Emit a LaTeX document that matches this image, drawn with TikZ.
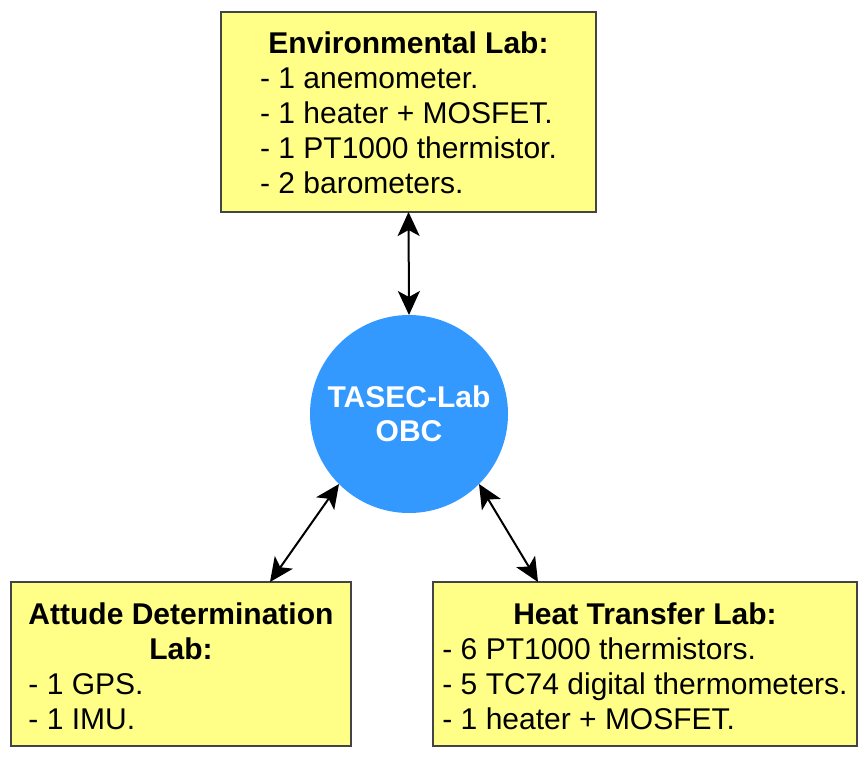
\documentclass[tikz,border=0pt]{standalone}
\usepackage{fontspec}
\setmainfont{Liberation Sans}
\usetikzlibrary{arrows.meta}
\definecolor{boxfill}{HTML}{FFFF88}
\definecolor{boxline}{HTML}{444444}
\definecolor{obcblue}{HTML}{3399FF}
\newcommand{\lowerby}[2]{\raisebox{0pt}[\dimexpr\height+#1*2\relax][\depth]{#2}}
\tikzset{
  labbox/.style={draw=boxline, fill=boxfill, line width=2pt, inner sep=0pt, outer sep=0pt,
    font=\fontsize{30}{35}\selectfont},
  obcnode/.style={circle, fill=obcblue, draw=none, minimum size=198pt, inner sep=0pt, outer sep=0pt,
    text=white, font=\fontsize{30}{34}\selectfont\bfseries, align=center},
  biarrow/.style={line width=2pt,
    arrows={Stealth[length=24pt,width=22pt,inset=6pt]-Stealth[length=24pt,width=22pt,inset=6pt]}}
}
\begin{document}
\begin{tikzpicture}[x=1pt,y=-1pt]
\useasboundingbox (0,0) rectangle (866,758);
\node[labbox, minimum width=375pt, minimum height=200pt] (env) at (408.5,112) {%
  \lowerby{4pt}{\begin{tabular}{@{}l@{}}
  \multicolumn{1}{@{}c@{}}{\textbf{Environmental Lab:}}\\
  - 1 anemometer.\\
  - 1 heater + MOSFET.\\
  - 1 PT1000 thermistor.\\
  - 2 barometers.
  \end{tabular}}};
\node[obcnode] (obc) at (409,414) {\lowerby{4pt}{\begin{tabular}{@{}c@{}}TASEC-Lab\\OBC\end{tabular}}};
\node[labbox, minimum width=340pt, minimum height=164pt] (att) at (181,664) {%
  \lowerby{6pt}{\begin{tabular}{@{}l@{}}
  \multicolumn{1}{@{}c@{}}{\textbf{Attude Determination}}\\
  \multicolumn{1}{@{}c@{}}{\textbf{Lab:}}\\
  - 1 GPS.\\
  - 1 IMU.
  \end{tabular}}};
\node[labbox, minimum width=424pt, minimum height=164pt] (heat) at (645,664) {%
  \lowerby{6pt}{\begin{tabular}{@{}l@{}}
  \multicolumn{1}{@{}c@{}}{\textbf{Heat Transfer Lab:}}\\
  - 6 PT1000 thermistors.\\
  - 5 TC74 digital thermometers.\\
  - 1 heater + MOSFET.
  \end{tabular}}};
\coordinate (attin) at (270,582);
\coordinate (heatin) at (538,582);
\draw[biarrow] (env.south) -- (obc.north);
\draw[biarrow] (obc.-135) -- (attin);
\draw[biarrow] (obc.-45) -- (heatin);
\end{tikzpicture}
\end{document}
